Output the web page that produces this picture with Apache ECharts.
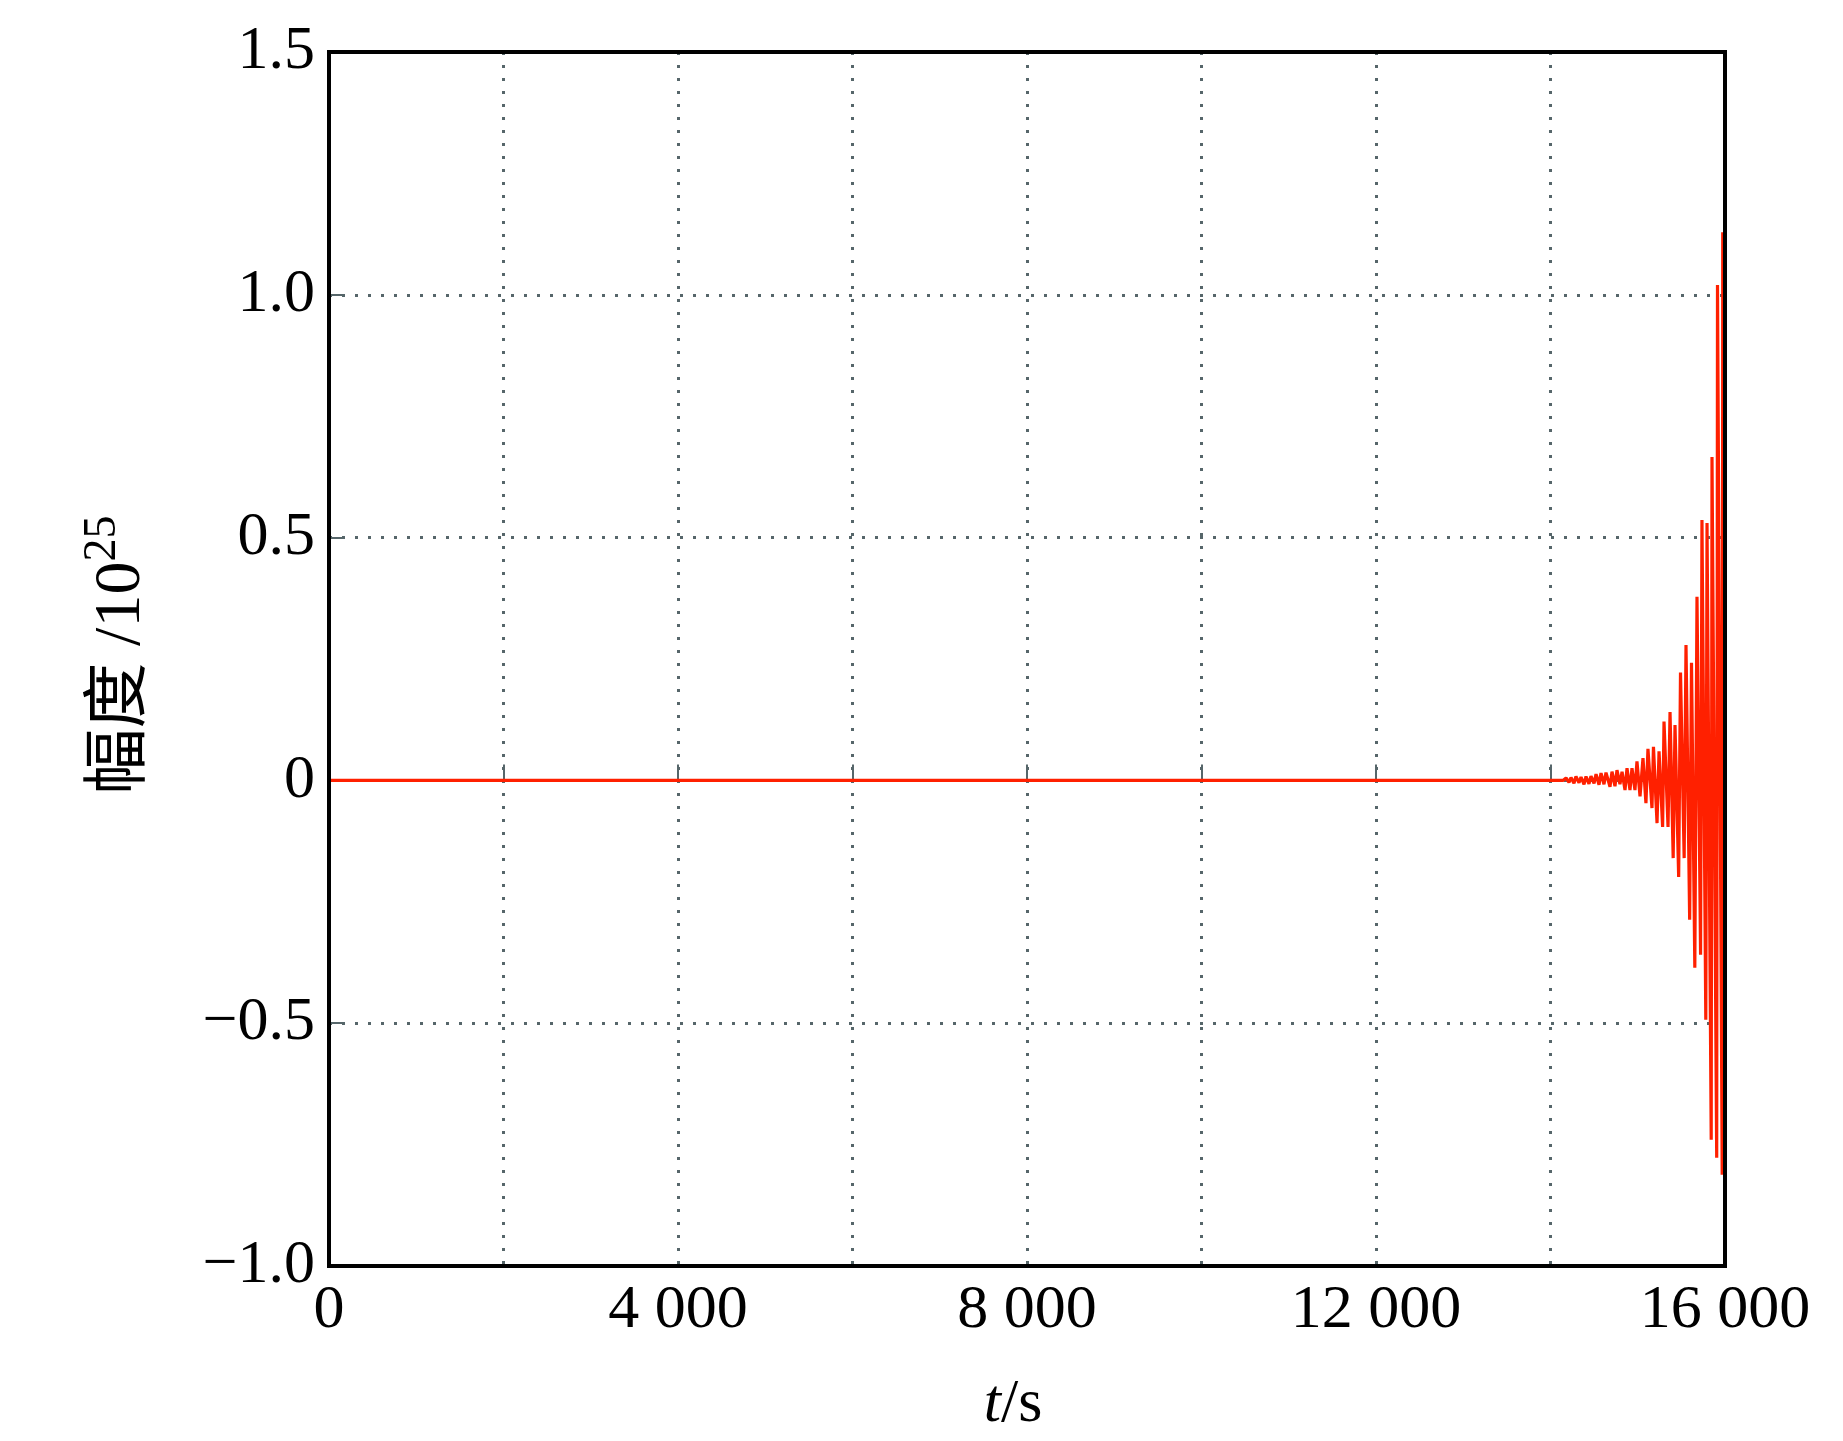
<!DOCTYPE html>
<html>
<head>
<meta charset="utf-8">
<script src="https://cdn.jsdelivr.net/npm/echarts@6/dist/echarts.min.js"></script>
<style>html,body{margin:0;padding:0;background:#fff;}#c{width:1843px;height:1441px;}</style>
</head>
<body>
<div id="c"></div>
<script>
// time (s) of each sample of the amplitude trace
var times = [0, 14143,
  14160, 14178, 14212, 14235, 14269, 14292, 14327, 14350, 14384, 14407,
  14441, 14464, 14499, 14522, 14556, 14579, 14613, 14636, 14682, 14705,
  14739, 14762, 14796, 14820, 14854, 14877, 14911, 14934, 14968, 14991,
  15026, 15060, 15094, 15117, 15163, 15180, 15221, 15244, 15285, 15301,
  15347, 15370, 15406, 15427, 15469, 15490, 15532, 15553, 15595, 15616,
  15654, 15679, 15720, 15736, 15780, 15794, 15842, 15851, 15905, 15914,
  15968, 15974, 16000];
// amplitude in units of 1e25
var amps = [0, 0,
  -0.003, 0.005, -0.004, 0.006, -0.006, 0.008, -0.005, 0.007, -0.008, 0.008,
  -0.007, 0.009, -0.006, 0.013, -0.009, 0.015, -0.008, 0.016, -0.013, 0.018,
  -0.012, 0.021, -0.008, 0.018, -0.020, 0.025, -0.020, 0.025, -0.020, 0.039,
  -0.033, 0.046, -0.047, 0.065, -0.057, 0.069, -0.088, 0.060, -0.096, 0.121,
  -0.096, 0.141, -0.160, 0.114, -0.199, 0.222, -0.160, 0.279, -0.287, 0.242,
  -0.386, 0.378, -0.359, 0.536, -0.493, 0.530, -0.740, 0.666, -0.777, 1.020,
  -0.812, 1.129, -0.420];
var xTicks = [0, 4000, 8000, 12000, 16000];
var xTickLabels = ['0', '4 000', '8 000', '12 000', '16 000'];
var yTicks = [-1.0, -0.5, 0, 0.5, 1.0, 1.5];
var yTickLabels = ['\u22121.0', '\u22120.5', '0', '0.5', '1.0', '1.5'];

var pts = times.map(function (t, i) { return [t, amps[i]]; });
var font = 'Liberation Serif, Times New Roman, serif';
var gridColor = '#56666a';
var G = {left: 329, right: 118, top: 52, bottom: 175};

var chart = echarts.init(document.getElementById('c'), null, {renderer: 'canvas'});
chart.setOption({
  animation: false,
  backgroundColor: '#fff',
  grid: {left: G.left, right: G.right, top: G.top, bottom: G.bottom, show: false},
  xAxis: {
    type: 'value', min: 0, max: 16000, interval: 2000,
    axisLine: {show: false},
    axisTick: {show: true, inside: true, length: 16, lineStyle: {color: gridColor, width: 2}},
    splitLine: {show: true, lineStyle: {color: gridColor, width: 3, type: [3, 10]}},
    axisLabel: {
      margin: 14, color: '#000', fontFamily: font, fontSize: 62,
      formatter: function (v) { var i = xTicks.indexOf(v); return i >= 0 ? xTickLabels[i] : ''; }
    }
  },
  yAxis: {
    type: 'value', min: -1, max: 1.5, interval: 0.5,
    axisLine: {show: false},
    axisTick: {show: true, inside: true, length: 16, lineStyle: {color: gridColor, width: 2}},
    splitLine: {show: true, lineStyle: {color: gridColor, width: 3, type: [3, 10]}},
    axisLabel: {
      margin: 14, color: '#000', fontFamily: font, fontSize: 62,
      formatter: function (v) { var i = -1; yTicks.forEach(function (t, k) { if (Math.abs(t - v) < 1e-9) i = k; }); return i >= 0 ? yTickLabels[i] : ''; }
    }
  },
  graphic: [
    {
      type: 'rect', z: 100, silent: true,
      shape: {x: G.left, y: G.top, width: 1843 - G.left - G.right, height: 1441 - G.top - G.bottom},
      style: {fill: null, stroke: '#000', lineWidth: 4}
    },
    {
      type: 'text', x: 122, y: 655, rotation: Math.PI / 2,
      style: {
        text: '{a|幅度 /10}{b|25}',
        align: 'center', verticalAlign: 'middle',
        rich: {
          a: {fontFamily: 'Liberation Serif, Noto Sans CJK SC', fontSize: 66, lineHeight: 84, fill: '#000', fontWeight: 'normal'},
          b: {fontFamily: 'Liberation Serif', fontSize: 46, lineHeight: 46, fill: '#000', verticalAlign: 'top'}
        }
      }
    },
    {
      type: 'text', x: 1013, y: 1405,
      style: {
        text: '{i|t}{n|/s}',
        align: 'center', verticalAlign: 'middle',
        rich: {
          i: {fontFamily: font, fontSize: 62, fontStyle: 'italic', fill: '#000'},
          n: {fontFamily: font, fontSize: 62, fill: '#000'}
        }
      }
    }
  ],
  series: [{
    type: 'line', data: pts, showSymbol: false, symbol: 'none',
    lineStyle: {color: '#ff2000', width: 3.2}, clip: true, z: 3
  }]
});
</script>
</body>
</html>
